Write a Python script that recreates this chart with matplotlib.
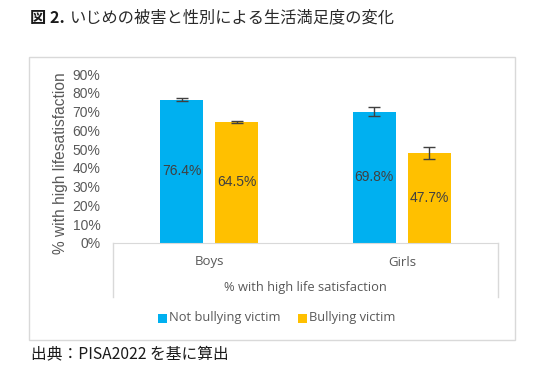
import matplotlib.pyplot as plt
from matplotlib.lines import Line2D
from matplotlib.patches import Rectangle
import numpy as np

categories = ["Boys", "Girls"]
series = ["Not bullying victim", "Bullying victim"]
not_victim = [76.4, 69.8]
victim = [64.5, 47.7]
not_victim_err = [1.0, 2.4]
victim_err = [0.5, 3.2]
yticks = [0, 10, 20, 30, 40, 50, 60, 70, 80, 90]

W, H = 542, 373
fig = plt.figure(figsize=(W / 100, H / 100), dpi=100)
jp = ["Noto Sans CJK JP", "DejaVu Sans"]
grey = "#595959"
blue = "#00B0F0"
orange = "#FFC000"

def fx(px):
    return px / W

def fy(py):
    return 1 - py / H

# chart frame
fig.add_artist(Rectangle((fx(29), fy(340)), fx(515) - fx(29), fy(57) - fy(340),
                         transform=fig.transFigure, fill=False, ec="#D9D9D9", lw=1))

# title
fig.text(fx(30), fy(18), "図 2.", fontsize=11.7, fontweight="bold", family=jp, va="center", color="#1a1a1a")
fig.text(fx(70), fy(18), "いじめの被害と性別による生活満足度の変化", fontsize=11.7, family=jp, va="center", color="#2a2a2a")

ax = fig.add_axes([fx(113), fy(243), fx(498) - fx(113), fy(74) - fy(243)])
x = np.arange(len(categories))
bw = 0.225
gap = 0.03
b1 = ax.bar(x - bw / 2 - gap, not_victim, bw, color=blue, yerr=not_victim_err,
            error_kw=dict(ecolor="#404040", lw=1, capsize=4, capthick=1))
b2 = ax.bar(x + bw / 2 + gap, victim, bw, color=orange, yerr=victim_err,
            error_kw=dict(ecolor="#404040", lw=1, capsize=4, capthick=1))
for bars, vals in ((b1, not_victim), (b2, victim)):
    for r, v in zip(bars, vals):
        ax.text(r.get_x() + r.get_width() / 2, v / 2, f"{v:.1f}%", ha="center", va="center",
                fontsize=10, family="Liberation Sans", color="#404040")

ax.set_xlim(-0.5, 1.5)
ax.set_ylim(0, 90)
ax.set_yticks(yticks)
ax.set_yticklabels([f"{t}%" for t in yticks], family="Liberation Sans", fontsize=10, color=grey)
ax.tick_params(axis="y", length=0, pad=9)
ax.set_xticks([])
for s in ("left", "right", "top"):
    ax.spines[s].set_visible(False)
ax.spines["bottom"].set_color("#D9D9D9")
ax.set_ylabel("% with high lifesatisfaction", family="Liberation Sans", fontsize=11.2, color=grey, labelpad=3)
ax.yaxis.label.set_position((0, 0.47))

# category box
for px in (113, 498):
    fig.add_artist(Line2D([fx(px), fx(px)], [fy(243), fy(297)], transform=fig.transFigure,
                          color="#D9D9D9", lw=1))
for i, c in enumerate(categories):
    fig.text(fx(209 + 193 * i), fy(262), c, ha="center", va="center", fontsize=9.5, family="Open Sans", color=grey)
fig.text(fx(305), fy(288), "% with high life satisfaction", ha="center", va="center",
         fontsize=9.3, family="Open Sans", color=grey)

# legend
for lx, col, lab in ((158, blue, series[0]), (298, orange, series[1])):
    fig.add_artist(Rectangle((fx(lx), fy(323)), fx(9), 9 / H, transform=fig.transFigure,
                             color=col, lw=0))
    fig.text(fx(lx + 11), fy(318), lab, va="center", fontsize=9.3, family="Open Sans", color=grey)

# source
fig.text(fx(31), fy(354), "出典：PISA2022 を基に算出", fontsize=11.3, family=jp, va="center", color="#1a1a1a")

fig.savefig("out.png", dpi=100)
